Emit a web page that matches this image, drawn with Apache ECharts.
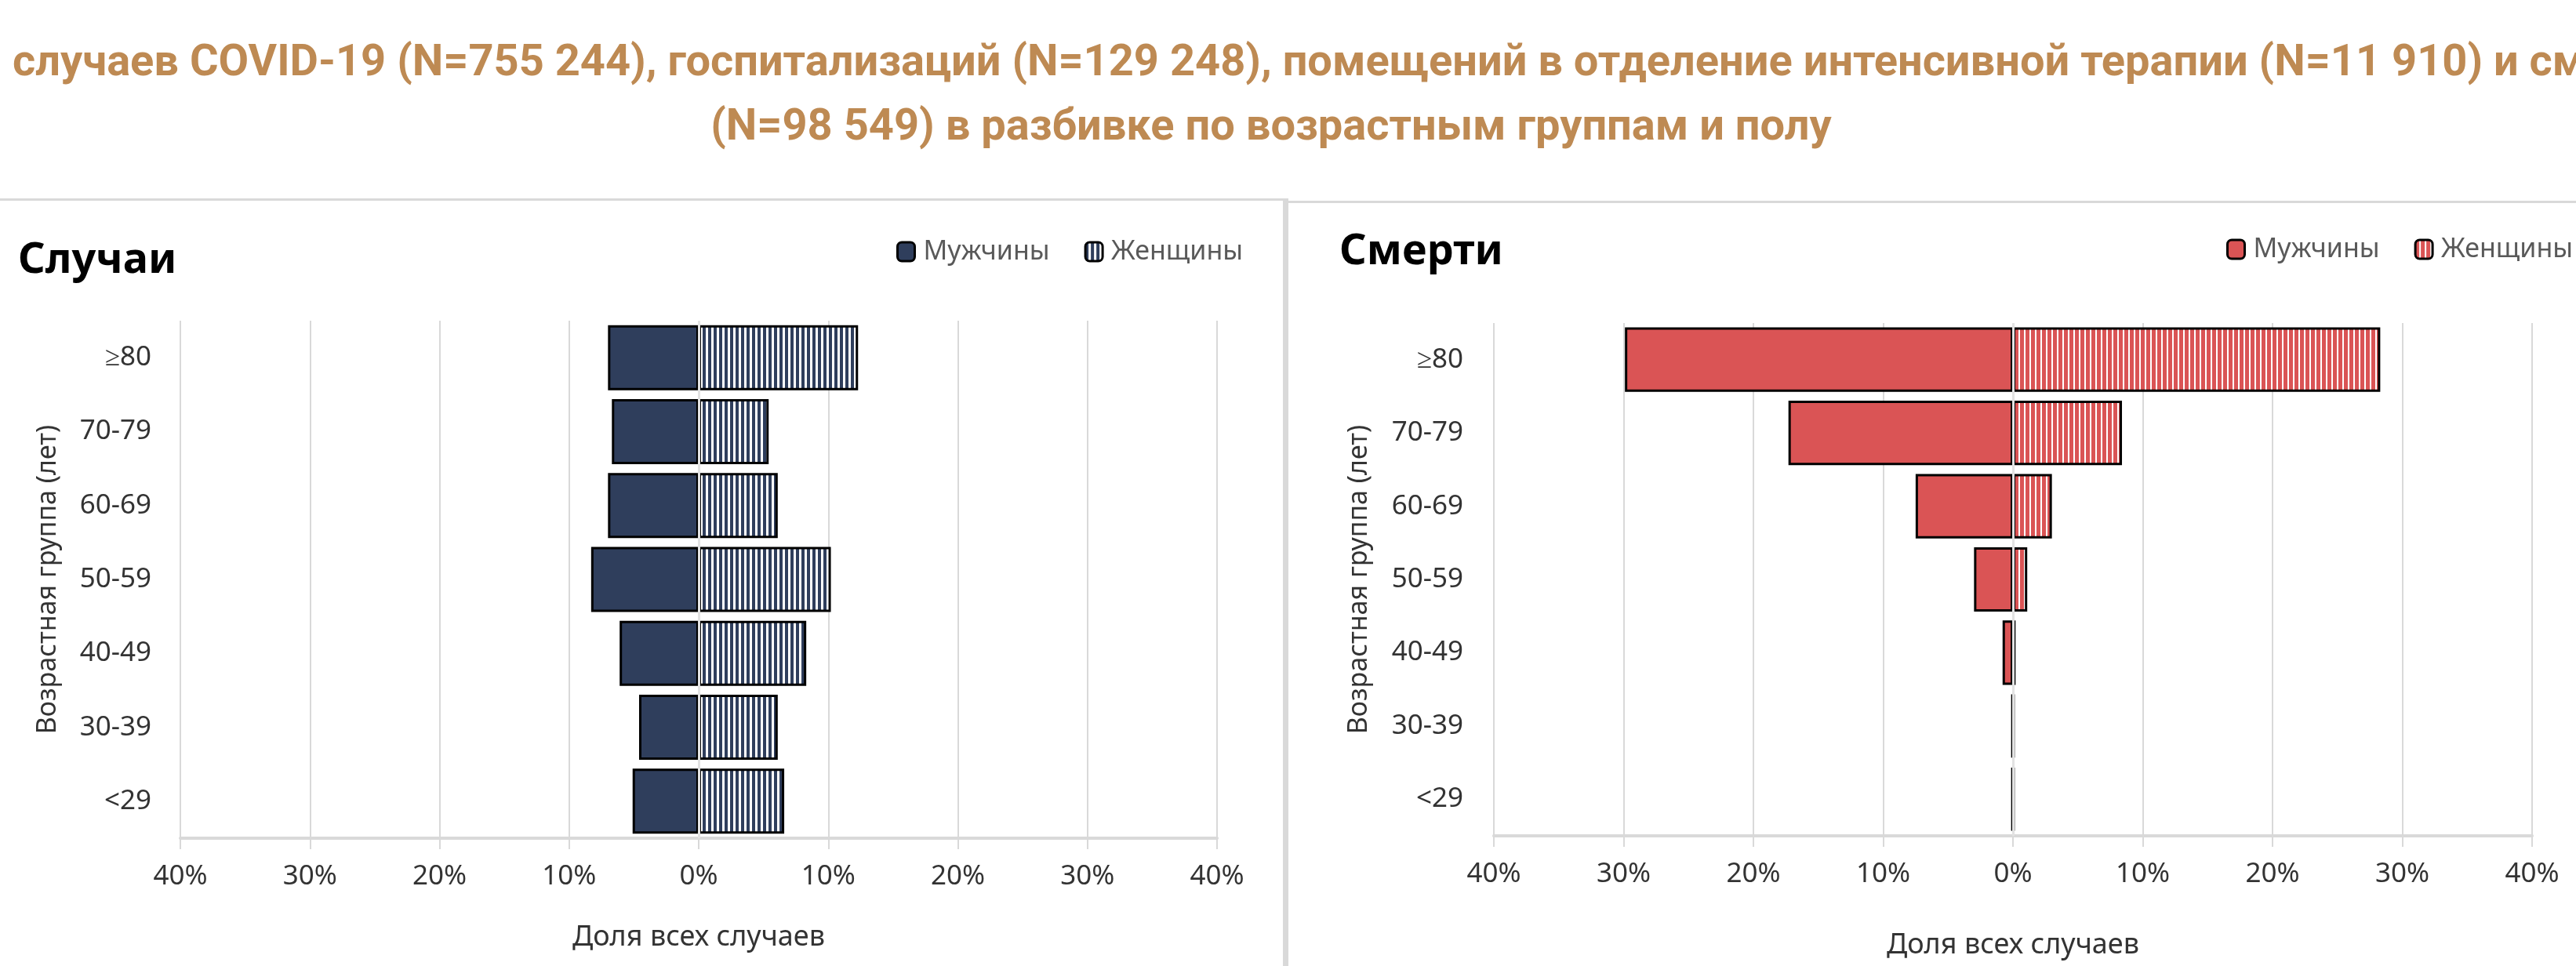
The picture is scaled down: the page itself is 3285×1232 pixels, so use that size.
<!DOCTYPE html>
<html>
<head>
<meta charset="utf-8">
<script src="https://cdn.jsdelivr.net/npm/echarts@6/dist/echarts.min.js"></script>
<style>
html, body { margin: 0; padding: 0; background: #fff; }
#chart { width: 3285px; height: 1232px; }
</style>
</head>
<body>
<div id="chart"></div>
<script>
// возрастные группы, снизу вверх
const ageGroups = ['<29', '30-39', '40-49', '50-59', '60-69', '70-79', '≥80']
// доля всех случаев, %
const casesMen = [5.1, 4.6, 6.1, 8.3, 7.0, 6.7, 7.0]
const casesWomen = [6.6, 6.1, 8.3, 10.2, 6.1, 5.4, 12.3]
// доля всех смертей, %
const deathsMen = [0.1, 0.1, 0.8, 3.0, 7.5, 17.3, 29.9]
const deathsWomen = [0.1, 0.1, 0.2, 1.1, 3.0, 8.4, 28.3]
// подписи оси X
const pctTicks = [-40, -30, -20, -10, 0, 10, 20, 30, 40]
const sexLabels = { casesM: 'Мужчины', casesW: 'Женщины', deathsM: 'Мужчины', deathsW: 'Женщины' }

const titleLine1 = 'случаев COVID-19 (N=755 244), госпитализаций (N=129 248), помещений в отделение интенсивной терапии (N=11 910) и смертей'
const titleLine2 = '(N=98 549) в разбивке по возрастным группам и полу'

const navy = '#2f3e5c'
const red = '#da5455'
const gridGrey = '#d9d9d9'
const font = 'Noto Sans'

// вертикальная штриховка для женщин
function stripes(color, w) {
  let c = document.createElement('canvas')
  c.width = 7
  c.height = 8
  let ctx = c.getContext('2d')
  ctx.fillStyle = '#fff'
  ctx.fillRect(0, 0, 7, 8)
  ctx.fillStyle = color
  ctx.fillRect(0, 0, w, 8)
  return { image: c, repeat: 'repeat' }
}

const zeroLine = {
  silent: true,
  symbol: ['none', 'none'],
  label: { show: false },
  lineStyle: { color: '#e2e2e2', width: 3, type: 'solid' },
  data: [{ xAxis: 0 }]
}

function xAxisFor(i, gap) {
  return {
    type: 'value',
    gridIndex: i,
    min: pctTicks[0],
    max: pctTicks[pctTicks.length - 1],
    interval: pctTicks[1] - pctTicks[0],
    axisLabel: {
      formatter: v => Math.abs(v) + '%',
      fontFamily: font, fontSize: 35, color: '#333', margin: 32
    },
    axisLine: { show: true, lineStyle: { color: gridGrey, width: 4 } },
    axisTick: { show: true, length: 14, lineStyle: { color: gridGrey, width: 2 } },
    splitLine: { show: true, lineStyle: { color: gridGrey, width: 2 } },
    name: 'Доля всех случаев',
    nameLocation: 'middle',
    nameGap: gap,
    nameTextStyle: { fontFamily: font, fontSize: 36, color: '#333' }
  }
}

function yAxisFor(i, margin, gap) {
  return {
    type: 'category',
    gridIndex: i,
    data: ageGroups,
    axisLine: { show: false },
    axisTick: { show: false },
    axisLabel: { fontFamily: font, fontSize: 35, color: '#333', margin: margin },
    name: 'Возрастная группа (лет)',
    nameLocation: 'middle',
    nameGap: gap,
    nameTextStyle: { fontFamily: font, fontSize: 34, color: '#333' }
  }
}

function legendFor(names, left, top) {
  return {
    data: names,
    left: left,
    top: top,
    width: 800,
    itemWidth: 22,
    itemHeight: 24,
    itemGap: 44,
    formatter: n => sexLabels[n],
    textStyle: { fontFamily: font, fontSize: 34, color: '#595959', padding: [0, 0, 0, 6] },
    itemStyle: { borderColor: '#000', borderWidth: 3 }
  }
}

function barSeries(name, idx, stack, data, color, withZero) {
  let s = {
    name: name,
    type: 'bar',
    xAxisIndex: idx,
    yAxisIndex: idx,
    stack: stack,
    barCategoryGap: '12%',
    data: data,
    itemStyle: { color: color, borderColor: '#000', borderWidth: 3 }
  }
  if (withZero) s.markLine = zeroLine
  return s
}

let myChart = echarts.init(document.getElementById('chart'))
myChart.setOption({
  animation: false,
  backgroundColor: '#fff',
  graphic: [
    // рамки панелей
    { type: 'rect', silent: true, shape: { x: 0, y: 253, width: 1640, height: 3 }, style: { fill: gridGrey } },
    { type: 'rect', silent: true, shape: { x: 1636, y: 253, width: 7, height: 979 }, style: { fill: gridGrey } },
    { type: 'rect', silent: true, shape: { x: 1643, y: 256, width: 1642, height: 3 }, style: { fill: gridGrey } },
    // общий заголовок
    { type: 'text', x: 16, y: 82, style: { text: titleLine1, font: 'bold 56px Roboto', fill: '#be8a53', align: 'left', verticalAlign: 'middle' } },
    { type: 'text', x: 1621, y: 164, style: { text: titleLine2, font: 'bold 56px Roboto', fill: '#be8a53', align: 'center', verticalAlign: 'middle' } },
    // заголовки графиков
    { type: 'text', x: 23, y: 333, style: { text: 'Случаи', font: 'bold 54px "Noto Sans"', fill: '#000', align: 'left', verticalAlign: 'middle' } },
    { type: 'text', x: 1708, y: 322, style: { text: 'Смерти', font: 'bold 54px "Noto Sans"', fill: '#000', align: 'left', verticalAlign: 'middle' } }
  ],
  legend: [
    legendFor(['casesM', 'casesW'], 1138, 299),
    legendFor(['deathsM', 'deathsW'], 2834, 296)
  ],
  grid: [
    { left: 230, top: 409, width: 1322, height: 660 },
    { left: 1905, top: 412, width: 1324, height: 654 }
  ],
  xAxis: [xAxisFor(0, 109), xAxisFor(1, 122)],
  yAxis: [yAxisFor(0, 37, 152), yAxisFor(1, 39, 155)],
  series: [
    barSeries('casesM', 0, 'cases', casesMen.map(v => -v), navy, false),
    barSeries('casesW', 0, 'cases', casesWomen, stripes(navy, 4), true),
    barSeries('deathsM', 1, 'deaths', deathsMen.map(v => -v), red, false),
    barSeries('deathsW', 1, 'deaths', deathsWomen, stripes(red, 5), true)
  ]
})
</script>
</body>
</html>
